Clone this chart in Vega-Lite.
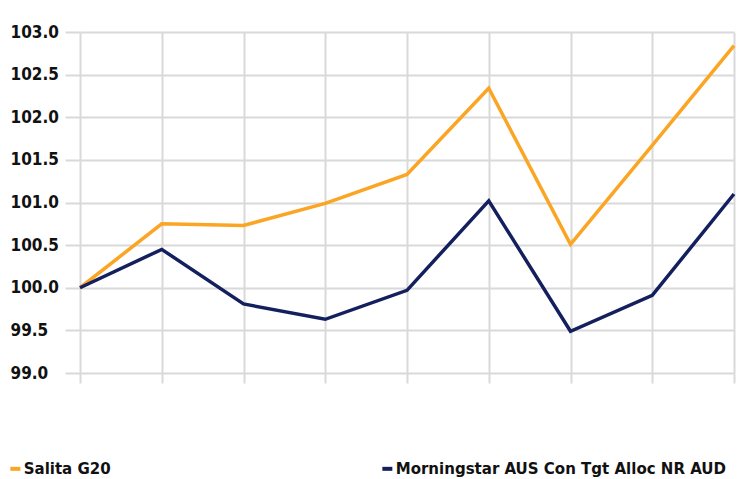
{
  "$schema": "https://vega.github.io/schema/vega-lite/v6.json",
  "width": 654,
  "height": 341,
  "autosize": {"type": "none"},
  "padding": {"left": 80, "top": 32, "right": 13, "bottom": 106},
  "background": "white",
  "config": {"view": {"stroke": null}},
  "data": {"values": [
    {"i": 0, "series": "Salita G20", "v": 100.0},
    {"i": 1, "series": "Salita G20", "v": 100.75},
    {"i": 2, "series": "Salita G20", "v": 100.73},
    {"i": 3, "series": "Salita G20", "v": 100.99},
    {"i": 4, "series": "Salita G20", "v": 101.33},
    {"i": 5, "series": "Salita G20", "v": 102.34},
    {"i": 6, "series": "Salita G20", "v": 100.51},
    {"i": 7, "series": "Salita G20", "v": 101.67},
    {"i": 8, "series": "Salita G20", "v": 102.84},
    {"i": 0, "series": "Morningstar AUS Con Tgt Alloc NR AUD", "v": 100.0},
    {"i": 1, "series": "Morningstar AUS Con Tgt Alloc NR AUD", "v": 100.45},
    {"i": 2, "series": "Morningstar AUS Con Tgt Alloc NR AUD", "v": 99.81},
    {"i": 3, "series": "Morningstar AUS Con Tgt Alloc NR AUD", "v": 99.63},
    {"i": 4, "series": "Morningstar AUS Con Tgt Alloc NR AUD", "v": 99.97},
    {"i": 5, "series": "Morningstar AUS Con Tgt Alloc NR AUD", "v": 101.02},
    {"i": 6, "series": "Morningstar AUS Con Tgt Alloc NR AUD", "v": 99.49},
    {"i": 7, "series": "Morningstar AUS Con Tgt Alloc NR AUD", "v": 99.91},
    {"i": 8, "series": "Morningstar AUS Con Tgt Alloc NR AUD", "v": 101.10}
  ]},
  "mark": {"type": "line", "strokeWidth": 3.5, "strokeJoin": "miter"},
  "encoding": {
    "x": {
      "field": "i", "type": "quantitative",
      "scale": {"domain": [0, 8], "nice": false, "zero": false},
      "axis": {
        "title": null, "labels": false, "domain": false,
        "values": [0, 1, 2, 3, 4, 5, 6, 7, 8],
        "grid": true, "gridColor": "#d9d9d9", "gridWidth": 2,
        "ticks": true, "tickSize": 10, "tickColor": "#d9d9d9", "tickWidth": 2
      }
    },
    "y": {
      "field": "v", "type": "quantitative",
      "scale": {"domain": [99, 103], "nice": false, "zero": false},
      "axis": {
        "title": null, "domain": false,
        "values": [99, 99.5, 100, 100.5, 101, 101.5, 102, 102.5, 103],
        "format": ".1f",
        "grid": true, "gridColor": "#d9d9d9", "gridWidth": 2,
        "ticks": true, "tickSize": 15, "tickColor": "#d9d9d9", "tickWidth": 2,
        "labelAlign": "left", "labelPadding": 55,
        "labelFont": "DejaVu Sans Condensed", "labelFontWeight": "bold", "labelFontSize": 17, "labelColor": "#111111"
      }
    },
    "color": {
      "field": "series", "type": "nominal",
      "scale": {
        "domain": ["Salita G20", "Morningstar AUS Con Tgt Alloc NR AUD"],
        "range": ["#FBA524", "#14205E"]
      },
      "legend": {
        "title": null, "orient": "none", "direction": "horizontal",
        "legendX": -73, "legendY": 428,
        "symbolType": "stroke", "symbolSize": 100, "symbolStrokeWidth": 4,
        "labelOffset": 0,
        "columnPadding": 263,
        "labelFont": "DejaVu Sans Condensed", "labelFontWeight": "bold", "labelFontSize": 16.7, "labelColor": "#111111",
        "labelLimit": 500
      }
    }
  }
}
